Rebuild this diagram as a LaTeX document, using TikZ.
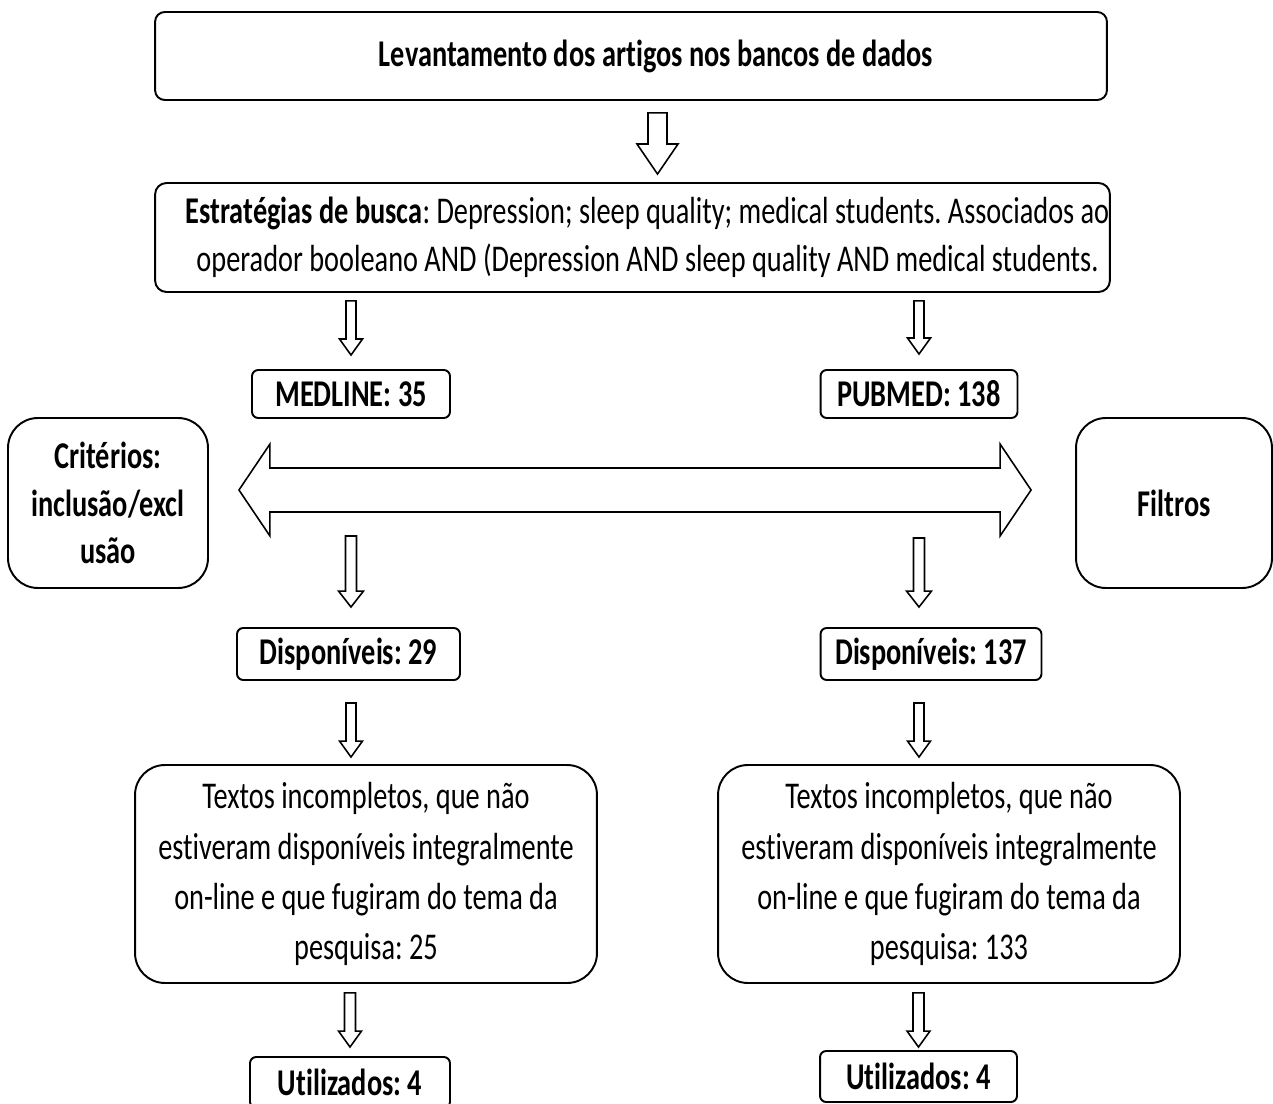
\documentclass[tikz,border=0pt]{standalone}
\usepackage{fontspec}
\setmainfont{Carlito}[FakeStretch=0.75, Ligatures=NoCommon]
\usetikzlibrary{calc, positioning}
\frenchspacing

\tikzset{
  caixa/.style={draw, line width=1.1pt, rounded corners=#1, align=center, inner sep=0pt},
  caixa/.default=3.5pt,
  seta/.style={draw, line width=0.9pt, fill=white, line join=miter},
}

% seta oca vertical: inicio, ponta, meia haste, meia cabeca, comprimento da cabeca
\newcommand{\setaoca}[5]{%
  \coordinate (s0) at (#1);
  \coordinate (s1a) at (#2);
  \coordinate (s1) at (s0 |- s1a);
  \draw[seta] ($(s0)+(-#3,0)$) -- ($(s0)+(#3,0)$) -- ($(s1)+(#3,-#5)$) -- ($(s1)+(#4,-#5)$)
    -- (s1) -- ($(s1)+(-#4,-#5)$) -- ($(s1)+(-#3,-#5)$) -- cycle;
}

\begin{document}
\begin{tikzpicture}[x=0.02cm, y=-0.02cm, font=\fontsize{21.5pt}{27pt}\selectfont]
    \useasboundingbox (0,0) rectangle (1273,1104);

    % 1. Caixas de cima
    \node[caixa=5.5pt, minimum width=19.04cm, minimum height=1.76cm] (lev) at (631,56)
        {\hspace*{1cm}\textbf{Levantamento dos artigos nos bancos de dados}};
    \node[caixa=6.5pt, minimum width=19.10cm, minimum height=2.18cm] (est) at (632.5,237.5)
        {\hspace*{0.6cm}\textbf{Estratégias de busca}: Depression; sleep quality; medical students. Associados ao\\
         \hspace*{0.6cm}operador booleano AND (Depression AND sleep quality AND medical students.};

    % 2. Bancos de dados
    \node[caixa, minimum width=3.96cm, minimum height=0.96cm] (med) at (351,394) {\textbf{MEDLINE: 35}};
    \node[caixa, minimum width=3.94cm, minimum height=0.96cm] (pub) at (919,394) {\textbf{PUBMED: 138}};

    % 3. Criterios e filtros
    \node[caixa=17pt, minimum width=4.00cm, minimum height=3.40cm] (crit) at (108,503)
        {\textbf{Critérios:}\\\textbf{inclusão/excl}\\\textbf{usão}};
    \node[caixa=17pt, minimum width=3.92cm, minimum height=3.40cm] (filt) at (1174,503)
        {\textbf{Filtros}};

    % 4. Disponiveis, textos e utilizados
    \node[caixa, minimum width=4.46cm, minimum height=1.04cm] (disL) at (348.5,654) {\textbf{Disponíveis: 29}};
    \node[caixa, minimum width=4.42cm, minimum height=1.04cm] (disR) at (931,654) {\textbf{Disponíveis: 137}};
    \node[caixa=17pt, minimum width=9.24cm, minimum height=4.36cm, font=\fontsize{21.5pt}{28.5pt}\selectfont]
        (txtL) at (366,874)
        {Textos incompletos, que não\\estiveram disponíveis integralmente\\on-line e que fugiram do tema da\\pesquisa: 25};
    \node[caixa=17pt, minimum width=9.24cm, minimum height=4.36cm, font=\fontsize{21.5pt}{28.5pt}\selectfont]
        (txtR) at (949,874)
        {Textos incompletos, que não\\estiveram disponíveis integralmente\\on-line e que fugiram do tema da\\pesquisa: 133};
    \node[caixa, minimum width=4.00cm, minimum height=1.02cm] (utiL) at (350,1082.5) {\textbf{Utilizados: 4}};
    \node[caixa, minimum width=3.94cm, minimum height=1.02cm] (utiR) at (918.5,1076.5) {\textbf{Utilizados: 4}};

    % 5. Seta dupla
    \coordinate (dl) at ($(crit.east)+(30,-13)$);
    \coordinate (dr) at ($(filt.west)+(-44,-13)$);
    \draw[seta] (dl) -- ($(dl)+(31,-46)$) -- ($(dl)+(31,-22)$) -- ($(dr)+(-31,-22)$) -- ($(dr)+(-31,-46)$)
        -- (dr) -- ($(dr)+(-31,46)$) -- ($(dr)+(-31,22)$) -- ($(dl)+(31,22)$) -- ($(dl)+(31,46)$) -- cycle;

    % 6. Setas ocas
    \setaoca{$(lev.south)+(26.5,12)$}{$(est.north)+(0,-8)$}{9.5}{20.5}{30}
    \setaoca{$(med |- est.south)+(0,8)$}{$(med.north)+(0,-14)$}{5}{11.5}{16}
    \setaoca{$(pub |- est.south)+(0,8)$}{$(pub.north)+(0,-15)$}{5}{11.5}{16}
    \setaoca{$(med |- dl)+(0,46)$}{$(disL.north)+(0,-20)$}{5.5}{12.5}{16}
    \setaoca{$(pub |- dr)+(0,48)$}{$(disR.north)+(0,-20)$}{5.5}{12.5}{16}
    \setaoca{$(med |- disL.south)+(0,22)$}{$(txtL.north)+(0,-7)$}{5}{11.5}{16}
    \setaoca{$(pub |- disR.south)+(0,22)$}{$(txtR.north)+(0,-7)$}{5}{11.5}{16}
    \setaoca{$(utiL |- txtL.south)+(0,9)$}{$(utiL.north)+(0,-9)$}{5.5}{11.5}{16}
    \setaoca{$(utiR |- txtR.south)+(0,9)$}{$(utiR.north)+(0,-3)$}{5.5}{11.5}{16}
\end{tikzpicture}
\end{document}
